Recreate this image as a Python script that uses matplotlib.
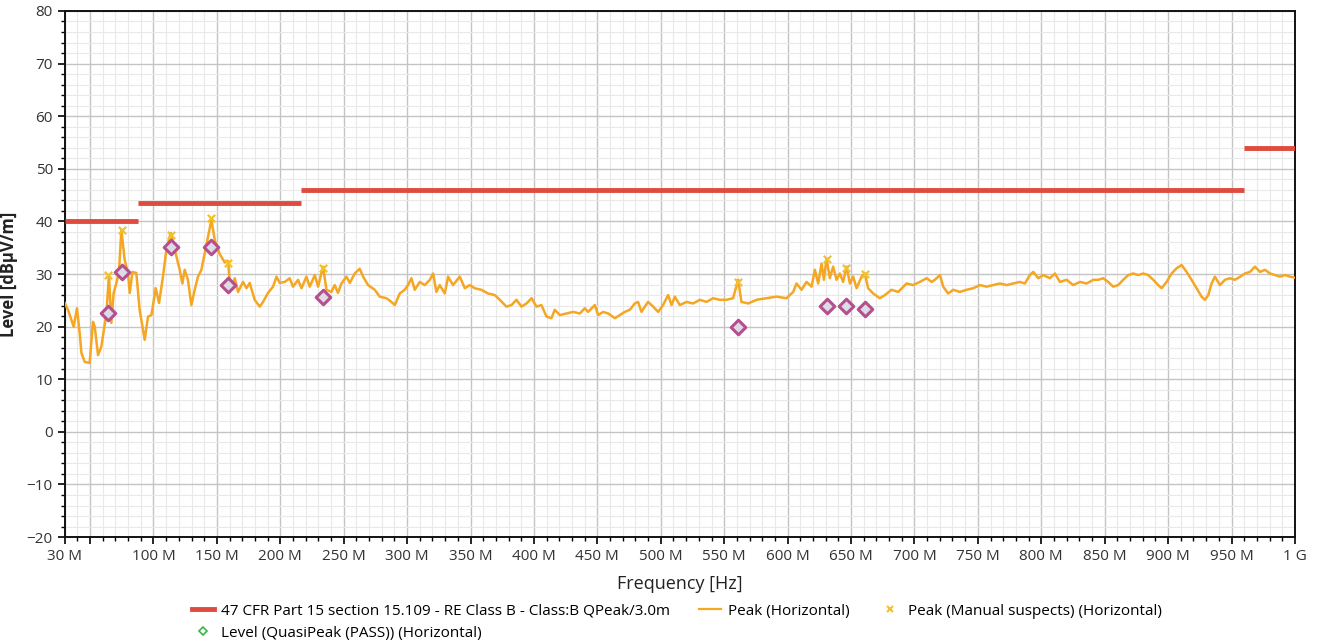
import matplotlib
matplotlib.use("Agg")
import matplotlib.pyplot as plt
from matplotlib.lines import Line2D
from matplotlib.ticker import MultipleLocator, FixedLocator, FuncFormatter

plt.rcParams['font.family'] = ['Open Sans', 'DejaVu Sans']

# limit line segments: (start MHz, stop MHz, level dBuV/m)
limit_start = [30, 88, 216, 960]
limit_stop = [88, 216, 960, 1000]
limit_level = [40, 43.5, 46, 54]

# peak trace (MHz, dBuV/m)
freq_mhz = [30, 32.6, 37.1, 39.7, 41.8, 43.2, 45.8, 49.7, 52.3, 53.7, 56.3, 58.9, 62.9, 64.9, 66.8,
            68.6, 70.8, 72.8, 74.7, 77.3, 79.9, 81.3, 83.4, 86.5, 89.1, 93.1, 95.7, 98.4, 101.8,
            104.4, 107.5, 110.2, 113.6, 116.8, 120.7, 122.8, 124.6, 127.2, 129.9, 132.5, 135.1,
            137.8, 141.7, 145.7, 148.3, 152.2, 156.2, 158.8, 160.1, 161.5, 164.1, 166.7, 170.6,
            173.3, 175.9, 179.8, 183.8, 186.4, 190.3, 194.3, 197.0, 199.6, 203.5, 207.4, 210.0,
            214.0, 216.7, 220.6, 223.2, 227.2, 229.8, 233.7, 236.4, 240.3, 242.9, 245.5, 248.2,
            252.2, 254.8, 258.7, 262.6, 265.3, 269.2, 274.5, 278.4, 283.7, 287.6, 290.3, 294.2,
            298.1, 300.7, 303.4, 306.0, 310.0, 313.9, 317.9, 320.5, 323.1, 325.7, 329.7, 332.3,
            336.2, 341.5, 345.5, 349.4, 353.3, 358.6, 363.8, 369.1, 373.1, 378.3, 382.3, 386.2,
            390.2, 394.1, 398.1, 402.0, 405.9, 409.9, 413.8, 416.4, 420.4, 425.7, 430.9, 436.2,
            440.1, 442.7, 448.0, 450.6, 454.5, 458.5, 463.8, 467.7, 471.6, 475.6, 479.5, 482.1,
            484.8, 487.4, 490.0, 494.0, 497.9, 501.8, 505.8, 508.5, 511.1, 515.0, 520.3, 525.5,
            530.8, 536.1, 541.3, 546.6, 551.8, 557.0, 561.0, 563.6, 568.9, 575.5, 583.4, 591.3,
            599.1, 604.4, 607.0, 611.0, 614.9, 618.9, 621.5, 624.1, 626.8, 628.6, 630.7, 633.3,
            635.9, 638.6, 641.2, 643.8, 646.5, 649.1, 651.7, 654.4, 658.3, 660.9, 663.5, 667.5,
            672.7, 676.7, 681.9, 687.2, 693.8, 699.0, 704.3, 709.6, 713.5, 716.1, 720.1, 722.7,
            726.6, 730.6, 735.8, 741.1, 746.3, 751.6, 756.9, 762.1, 767.4, 772.7, 777.9, 783.1,
            787.1, 791.0, 793.7, 797.6, 801.6, 806.8, 810.8, 814.7, 820.0, 825.2, 830.5, 835.8,
            841.0, 845.0, 848.8, 852.8, 856.7, 860.7, 864.6, 868.6, 872.5, 876.5, 880.4, 884.3,
            888.3, 892.2, 894.9, 898.8, 902.8, 906.7, 910.7, 914.6, 918.5, 922.5, 926.4, 929.0,
            931.7, 934.3, 936.9, 940.9, 944.8, 948.8, 952.7, 956.9, 960.6, 964.6, 968.5, 972.5,
            976.4, 980.4, 984.3, 988.2, 992.2, 996.1, 1000]
peak_dbuv = [24.5, 23.2, 20.0, 23.5, 18.8, 15.0, 13.3, 13.1, 20.9, 20.0, 14.6, 16.2, 22.5, 29.8, 20.7,
             26.4, 28.3, 30.4, 38.4, 32.7, 30.2, 26.4, 30.4, 30.2, 23.2, 17.5, 21.9, 22.2, 27.3,
             24.5, 29.5, 34.6, 37.8, 34.6, 30.8, 28.2, 30.8, 28.9, 24.1, 27.0, 29.5,
             30.8, 35.5, 40.3, 36.5, 33.8, 32.2, 32.5, 28.5, 27.6, 29.2, 26.6, 28.5,
             27.3, 28.3, 25.1, 23.8, 24.7, 26.4, 27.6, 29.5, 28.3, 28.5, 29.2, 27.6,
             28.9, 27.3, 29.5, 27.6, 29.8, 27.6, 31.4, 27.0, 26.6, 27.9, 26.4, 28.2,
             29.5, 28.3, 30.1, 31.0, 29.5, 27.9, 27.0, 25.7, 25.4, 24.7, 24.1, 26.3,
             27.0, 27.9, 29.2, 27.0, 28.5, 27.9, 28.9, 30.1, 26.6, 27.9, 26.3, 29.5,
             27.9, 29.5, 27.3, 27.9, 27.3, 27.0, 26.3, 26.0, 25.1, 23.8, 24.1, 25.1,
             23.8, 24.4, 25.4, 23.8, 24.1, 21.9, 21.6, 23.2, 22.2, 22.5, 22.8, 22.5,
             23.5, 22.8, 24.1, 22.2, 22.8, 22.5, 21.6, 22.2, 22.8, 23.2, 24.4, 24.7,
             22.8, 23.8, 24.7, 23.8, 22.8, 24.1, 26.0, 24.1, 25.7, 24.1, 24.7, 24.4,
             25.1, 24.7, 25.4, 25.1, 25.1, 25.4, 28.9, 24.7, 24.4, 25.1, 25.4, 25.7,
             25.4, 26.6, 28.2, 27.0, 28.5, 27.6, 30.8, 28.2, 32.0, 28.9, 33.0, 29.2,
             31.4, 28.9, 30.1, 28.5, 31.4, 28.2, 29.5, 27.3, 29.5, 30.1, 27.3, 26.3,
             25.4, 26.0, 27.0, 26.6, 28.2, 27.9, 28.5, 29.2, 28.5, 28.9, 29.8, 27.6,
             26.3, 27.0, 26.6, 27.0, 27.3, 27.9, 27.6, 27.9, 28.2, 27.9, 28.2, 28.5,
             28.2, 29.8, 30.4, 29.2, 29.8, 29.2, 30.1, 28.5, 28.9, 27.9, 28.5, 28.2,
             28.9, 28.9, 29.2, 28.5, 27.6, 27.9, 28.9, 29.8, 30.1, 29.8, 30.1, 29.8,
             28.9, 27.9, 27.3, 28.5, 30.1, 31.1, 31.7, 30.4, 28.9, 27.3, 25.7, 25.1,
             26.0, 28.2, 29.5, 27.9, 28.9, 29.2, 28.9, 29.5, 30.1, 30.4, 31.4, 30.4,
             30.8, 30.1, 29.8, 29.5, 29.8, 29.5, 29.3]

# manual suspects (peak) and quasi-peak results
susp_mhz = [64.5, 75.0, 114.0, 145.5, 159.0, 233.5, 561.0, 630.7, 646.0, 661.0]
susp_peak = [29.8, 38.4, 37.4, 40.6, 32.1, 31.1, 28.5, 32.9, 31.1, 30.0]
qp_level = [22.6, 30.4, 35.1, 35.1, 28.0, 25.6, 20.0, 23.9, 23.9, 23.3]

fig = plt.figure(figsize=(13.2, 6.44), dpi=100)
ax = fig.add_axes([0.049, 0.166, 0.932, 0.817])

for x0, x1, lv in zip(limit_start, limit_stop, limit_level):
    ax.plot([x0, x1], [lv, lv], color='#E04B3F', lw=3.5, solid_capstyle='butt', zorder=3)

ax.plot(freq_mhz, peak_dbuv, color='#F5A623', lw=1.8, zorder=4)
ax.scatter(susp_mhz, susp_peak, marker='x', color='#F2C12E', s=28, lw=1.6, zorder=5)
ax.scatter(susp_mhz, qp_level, marker='D', facecolor='#DCDCE6', edgecolor='#B4508E',
           s=55, lw=2.2, zorder=6)

ax.set_xlim(30, 1000)
ax.set_ylim(-20, 80)

major_x = [30, 50] + list(range(100, 1001, 50))
ax.xaxis.set_major_locator(FixedLocator(major_x))
ax.xaxis.set_minor_locator(MultipleLocator(10))


def fmt_freq(v, pos):
    if v == 50:
        return ''
    if v >= 1000:
        return '1 G'
    return '%d M' % v


ax.xaxis.set_major_formatter(FuncFormatter(fmt_freq))
ax.yaxis.set_major_locator(MultipleLocator(10))
ax.yaxis.set_minor_locator(MultipleLocator(2))

ax.grid(which='major', color='#C4C4C4', lw=1.0, zorder=0)
ax.grid(which='minor', color='#E9E9E9', lw=0.8, zorder=0)
ax.set_axisbelow(True)

ax.tick_params(which='major', direction='out', length=5, width=1.2, labelsize=11,
               labelcolor='#333333')
ax.tick_params(which='minor', direction='out', length=3, width=1.0)
for sp in ax.spines.values():
    sp.set_color('#111111')
    sp.set_linewidth(1.4)

ax.set_xlabel('Frequency [Hz]', fontsize=13, color='#222222', labelpad=8)
ax.set_ylabel('Level [dBµV/m]', fontsize=12, fontweight='bold', color='#222222', labelpad=6)

h_lim = Line2D([], [], color='#E04B3F', lw=3.5)
h_pk = Line2D([], [], color='#F5A623', lw=1.6)
h_sus = Line2D([], [], color='#F2C12E', marker='x', ls='none', ms=5, mew=1.5)
h_qp = Line2D([], [], color='#3CB44B', marker='D', mfc='none', ls='none', ms=4, mew=1.2)
fig.legend([h_lim, h_qp, h_pk, h_sus],
           ['47 CFR Part 15 section 15.109 - RE Class B - Class:B QPeak/3.0m',
            'Level (QuasiPeak (PASS)) (Horizontal)',
            'Peak (Horizontal)', 'Peak (Manual suspects) (Horizontal)'],
           loc='lower center', bbox_to_anchor=(0.513, -0.016), ncol=3, frameon=False,
           fontsize=11, handlelength=1.4, handletextpad=0.5, columnspacing=1.9,
           labelspacing=0.45)

plt.savefig('out.png', dpi=100)
